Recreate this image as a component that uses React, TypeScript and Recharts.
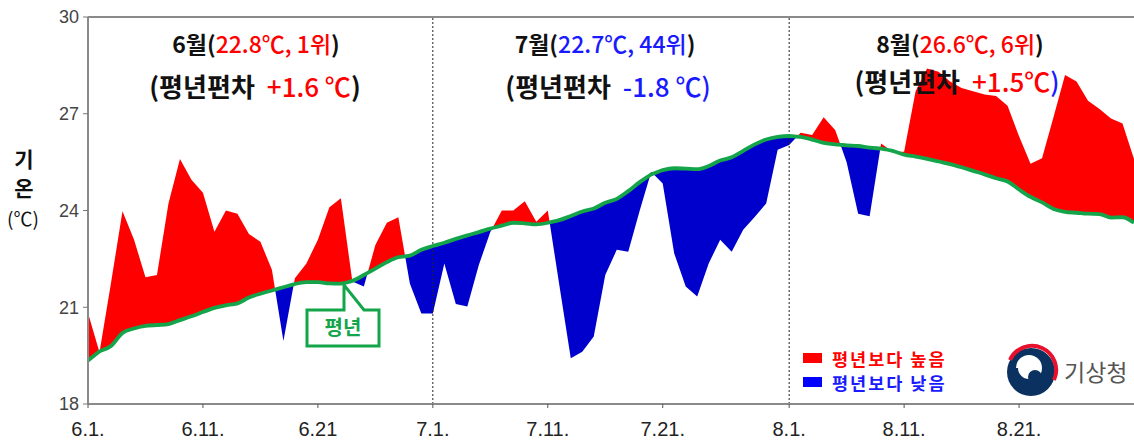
import React from "react";
import { ComposedChart, Area, Line, XAxis, YAxis, ReferenceLine } from "recharts";

// daily mean temperature, 6.1. ~ 8.31. (92 days)
const actualTemp = [
  20.82, 19.6, 21.75, 23.98, 23.1, 21.93, 22.0, 24.22, 25.6, 24.95,
  24.55, 23.34, 24.0, 23.9, 23.27, 23.03, 22.16, 19.95, 21.9, 22.36,
  23.09, 24.1, 24.38, 21.8, 21.64, 22.93, 23.62, 23.79, 21.74, 20.81,
  20.81, 22.36, 21.1, 21.02, 22.31, 23.33, 24.0, 24.0, 24.29, 23.65,
  24.0, 21.7, 19.42, 19.62, 20.09, 22.0, 22.78, 22.72, 24.0, 25.2,
  24.84, 22.67, 21.64, 21.33, 22.36, 23.09, 22.72, 23.4, 23.8, 24.22,
  25.88, 26.03, 26.41, 26.34, 26.89, 26.5, 25.5, 23.9, 23.82, 26.08,
  25.82, 25.82, 27.7, 28.4, 28.3, 28.0, 27.8, 27.7, 27.6, 27.55,
  27.25, 26.3, 25.45, 25.62, 26.9, 28.2, 28.0, 27.4, 27.15, 26.85,
  26.7, 25.6,
];

// climatological normal (평년)
const normalTemp = [
  19.35, 19.63, 19.8, 20.2, 20.34, 20.42, 20.45, 20.48, 20.6, 20.72,
  20.85, 20.98, 21.06, 21.12, 21.3, 21.42, 21.52, 21.62, 21.72, 21.78,
  21.78, 21.74, 21.73, 21.82, 22.0, 22.2, 22.4, 22.55, 22.6, 22.78,
  22.9, 23.0, 23.12, 23.23, 23.33, 23.44, 23.53, 23.62, 23.6, 23.57,
  23.62, 23.7, 23.83, 23.97, 24.06, 24.24, 24.36, 24.6, 24.88, 25.12,
  25.25, 25.31, 25.3, 25.28, 25.38, 25.55, 25.65, 25.85, 26.05, 26.2,
  26.28, 26.31, 26.28, 26.2, 26.1, 26.05, 26.02, 26.0, 25.95, 25.92,
  25.85, 25.73, 25.67, 25.6, 25.52, 25.44, 25.34, 25.23, 25.12, 25.0,
  24.9, 24.65, 24.42, 24.25, 24.05, 23.96, 23.93, 23.9, 23.89, 23.78,
  23.79, 23.62,
];

const tickDays = [0, 10, 20, 30, 40, 50, 61, 71, 81];
const tickLabels = ["6.1.", "6.11.", "6.21", "7.1.", "7.11.", "7.21.", "8.1.", "8.11.", "8.21."];
const yTicks = [18, 21, 24, 27, 30];
const monthStarts = [30, 61];

const RED = "#ff0000";
const BLUE = "#0000cc";
const GREEN = "#14a54b";
const KR = "'Noto Sans CJK KR', 'Noto Sans', sans-serif";
const NUM = "'Liberation Sans', Arial, sans-serif";

// rows with extra points where the actual line crosses the normal line
const rows: any[] = [];
for (let i = 0; i < actualTemp.length; i++) {
  const a = actualTemp[i];
  const n = normalTemp[i];
  rows.push({ day: i, normal: n, hi: [n, Math.max(a, n)], lo: [Math.min(a, n), n] });
  if (i < actualTemp.length - 1) {
    const d0 = a - n;
    const d1 = actualTemp[i + 1] - normalTemp[i + 1];
    if (d0 * d1 < 0) {
      const t = d0 / (d0 - d1);
      const c = n + t * (normalTemp[i + 1] - n);
      rows.push({ day: i + t, normal: c, hi: [c, c], lo: [c, c] });
    }
  }
}

const Overlay = () => (
  <svg
    width={1134}
    height={441}
    style={{ position: "absolute", left: 0, top: 0, pointerEvents: "none" }}
  >
    {/* y axis title */}
    <text x={24} y={167} textAnchor="middle" fontFamily={KR} fontSize={21} fontWeight={700} fill="#111">기</text>
    <text x={24} y={196} textAnchor="middle" fontFamily={KR} fontSize={21} fontWeight={700} fill="#111">온</text>
    <text x={23} y={226} textAnchor="middle" fontFamily={KR} fontSize={19} fill="#111">(℃)</text>

    {/* June */}
    <text x={256} y={53} textAnchor="middle" fontFamily={KR} fontSize={23} fontWeight={500} fill="#111">
      <tspan fontWeight={700}>6월(</tspan><tspan fill={RED}>22.8℃, 1위</tspan><tspan fontWeight={700}>)</tspan>
    </text>
    <text x={255} y={97} textAnchor="middle" fontFamily={KR} fontSize={26} fontWeight={700} fill="#111">
      (평년편차<tspan dx={12} fill={RED} fontWeight={500}>+1.6 ℃</tspan>)
    </text>

    {/* July */}
    <text x={605} y={53} textAnchor="middle" fontFamily={KR} fontSize={23} fontWeight={500} fill="#111">
      <tspan fontWeight={700}>7월(</tspan><tspan fill="#1a1aff">22.7℃, 44위</tspan><tspan fontWeight={700}>)</tspan>
    </text>
    <text x={608} y={97} textAnchor="middle" fontFamily={KR} fontSize={26} fontWeight={700} fill="#111">
      (평년편차<tspan dx={12} fill="#1a1aff" fontWeight={500}>-1.8 ℃)</tspan>
    </text>

    {/* August */}
    <text x={960} y={53} textAnchor="middle" fontFamily={KR} fontSize={23} fontWeight={500} fill="#111">
      <tspan fontWeight={700}>8월(</tspan><tspan fill={RED}>26.6℃, 6위</tspan><tspan fontWeight={700}>)</tspan>
    </text>
    <text x={957} y={92} textAnchor="middle" fontFamily={KR} fontSize={26} fontWeight={700} fill="#111">
      (평년편차<tspan dx={12} fill={RED} fontWeight={500}>+1.5℃</tspan><tspan fill="#1a1aff" fontWeight={500}>)</tspan>
    </text>

    {/* 평년 callout */}
    <path
      d="M307,310 L344,310 L344,285 L364,310 L379,310 L379,346 L307,346 Z"
      fill="#fff"
      stroke={GREEN}
      strokeWidth={3}
      strokeLinejoin="miter"
    />
    <text x={343} y={335} textAnchor="middle" fontFamily={KR} fontSize={20} fontWeight={700} fill={GREEN}>평년</text>

    {/* legend */}
    <rect x={803} y={353} width={19} height={10} fill={RED} />
    <text x={832} y={366} fontFamily={KR} fontSize={17.5} fontWeight={700} fill={RED} letterSpacing={2}>평년보다 높음</text>
    <rect x={803} y={377} width={19} height={10} fill="#0000ff" />
    <text x={832} y={390} fontFamily={KR} fontSize={17.5} fontWeight={700} fill="#1a1aff" letterSpacing={2}>평년보다 낮음</text>

    {/* KMA mark */}
    <g>
      <circle cx={1031} cy={372} r={24} fill="#0b3160" />
      <path d="M1010,360 A24,24 0 0 1 1054,380" fill="none" stroke="#e8112d" strokeWidth={4} />
      <circle cx={1029} cy={368} r={13} fill="#fff" />
      <circle cx={1035} cy={377} r={7} fill="#0b3160" />
      <path d="M1016,368 A13,13 0 0 0 1029,381" fill="none" stroke="#0b3160" strokeWidth={4} />
    </g>
    <text x={1064} y={381} fontFamily={KR} fontSize={23} fill="#555">기상청</text>
  </svg>
);

export default function App() {
  return (
    <div style={{ position: "absolute", left: 0, top: 0, width: 1134, height: 441, background: "#fff" }}>
      <ComposedChart
        width={1134}
        height={441}
        data={rows}
        margin={{ top: 17, right: 0, bottom: 7, left: 28 }}
      >
        <XAxis
          dataKey="day"
          type="number"
          domain={[0, 91]}
          ticks={tickDays}
          tickFormatter={(v: number) => tickLabels[tickDays.indexOf(v)] ?? ""}
          interval={0}
          height={30}
          axisLine={{ stroke: "#8a8a8a", strokeWidth: 2 }}
          tickLine={{ stroke: "#555" }}
          tickSize={4}
          tickMargin={14}
          tick={{ fontFamily: NUM, fontSize: 20, fill: "#222" }}
        />
        <YAxis
          type="number"
          domain={[18, 30]}
          ticks={yTicks}
          width={60}
          axisLine={{ stroke: "#8a8a8a", strokeWidth: 2 }}
          tickLine={{ stroke: "#777" }}
          tickSize={5}
          tickMargin={4}
          tick={{ fontFamily: NUM, fontSize: 18, fill: "#444" }}
        />
        <Area
          type="linear"
          dataKey="hi"
          stroke="none"
          fill={RED}
          fillOpacity={1}
          isAnimationActive={false}
        />
        <Area
          type="linear"
          dataKey="lo"
          stroke="none"
          fill={BLUE}
          fillOpacity={1}
          isAnimationActive={false}
        />
        {monthStarts.map((d) => (
          <ReferenceLine key={d} x={d} stroke="#222" strokeWidth={1} strokeDasharray="2 2" />
        ))}
        <ReferenceLine y={30} stroke="#8a8a8a" strokeWidth={2} />
        <Line
          type="monotone"
          dataKey="normal"
          stroke={GREEN}
          strokeWidth={3.8}
          dot={false}
          isAnimationActive={false}
        />
      </ComposedChart>
      <Overlay />
    </div>
  );
}
